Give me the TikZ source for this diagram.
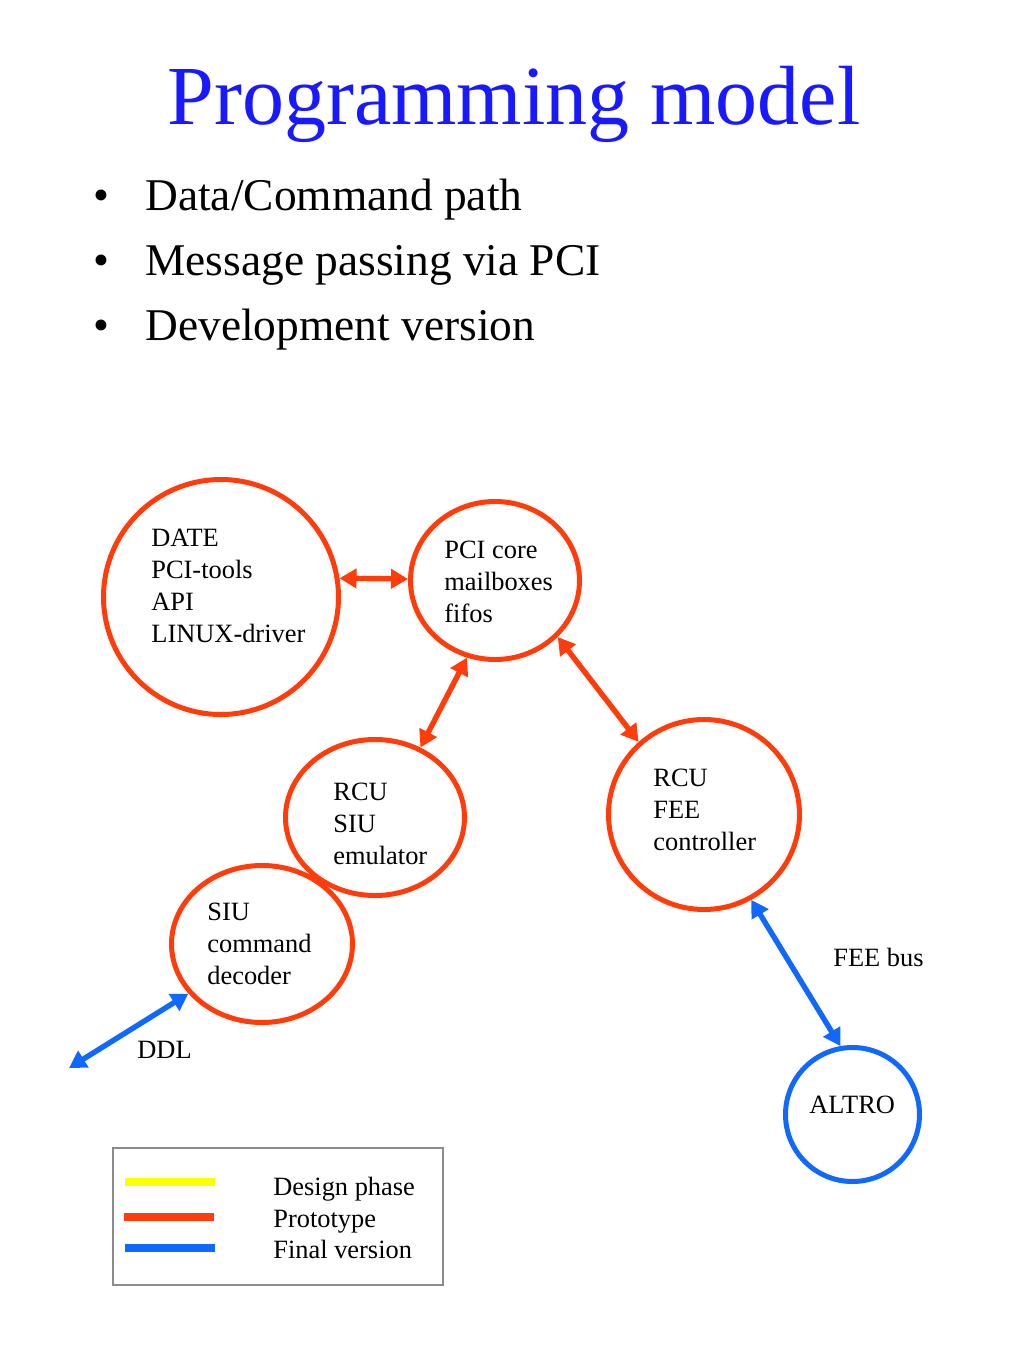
\documentclass[tikz,border=0pt]{standalone}
\usepackage{fontspec}
\setmainfont{Liberation Serif}
\usetikzlibrary{shapes.geometric,arrows.meta}
\definecolor{proto}{RGB}{255,60,10}
\definecolor{final}{RGB}{16,104,255}
\definecolor{titleblue}{RGB}{25,25,255}
\definecolor{design}{RGB}{255,255,0}
\definecolor{boxgray}{RGB}{140,140,140}
\begin{document}
\begin{tikzpicture}[x=0.5pt,y=-0.5pt,
  blob/.style={draw=proto, line width=2.5pt, ellipse, inner sep=0pt},
  fblob/.style={blob, draw=final},
  txt/.style={anchor=base west, inner sep=0pt, font=\fontsize{13.2}{16}\selectfont},
  bul/.style={anchor=base west, inner sep=0pt, font=\fontsize{22.7}{27}\selectfont},
  link/.style={draw=proto, line width=2.7pt, {Triangle[length=8.5pt,width=9.5pt]}-{Triangle[length=8.5pt,width=9.5pt]}},
  flink/.style={link, draw=final},
  legline/.style={line width=4pt}
]
\useasboundingbox (0,0) rectangle (1024,1365);

% title and bullets
\node[anchor=base, inner sep=0pt, font=\fontsize{42}{50}\selectfont, text=titleblue] (title) at (514,124) {Programming model};
\node[bul] (b1) at (93,210) {\textbullet};
\node[bul] (t1) at (145,210) {Data/Command path};
\node[bul] (b2) at (93,275) {\textbullet};
\node[bul] (t2) at (145,275) {Message passing via PCI};
\node[bul] (b3) at (93,340) {\textbullet};
\node[bul] (t3) at (145,340) {Development version};

% circles
\node[blob, minimum width=117.5pt, minimum height=117.5pt] (date) at (221,597) {};
\node[blob, minimum width=84.5pt, minimum height=79pt] (pci) at (495,580.5) {};
\node[blob, minimum width=89.5pt, minimum height=78pt] (emu) at (375,817.5) {};
\node[blob, minimum width=90.5pt, minimum height=78.5pt] (dec) at (262,944) {};
\node[blob, minimum width=95.5pt, minimum height=95pt] (fee) at (704,814.5) {};
\node[fblob, minimum width=67pt, minimum height=67pt] (altro) at (852.5,1114.5) {};

% circle texts
\node[txt] (d1) at (151,546) {DATE};
\node[txt] (d2) at (151,578) {PCI-tools};
\node[txt] (d3) at (151,610) {API};
\node[txt] (d4) at (151,642) {LINUX-driver};
\node[txt] (p1) at (444,558) {PCI core};
\node[txt] (p2) at (444,590) {mailboxes};
\node[txt] (p3) at (444,622) {fifos};
\node[txt] (e1) at (333,800) {RCU};
\node[txt] (e2) at (333,832) {SIU};
\node[txt] (e3) at (333,864) {emulator};
\node[txt] (c1) at (207,920) {SIU};
\node[txt] (c2) at (207,952) {command};
\node[txt] (c3) at (207,984) {decoder};
\node[txt] (f1) at (653,786) {RCU};
\node[txt] (f2) at (653,818) {FEE};
\node[txt] (f3) at (653,850) {controller};
\node[txt] (a1) at (809,1113) {ALTRO};
\node[txt] (feebus) at (833,966) {FEE bus};
\node[txt] (ddl) at (137,1058) {DDL};

% connectors
\draw[link] (date.9) -- (pci.179);
\draw[link] (pci.250) -- (emu.57);
\draw[link] (pci.318) -- (fee.132);
\draw[flink] (fee.299) -- (altro.100);
\coordinate (ddlend) at (69,1068);
\draw[flink] (ddlend) -- (dec.214);

% legend
\node[draw=boxgray, line width=0.6pt, minimum width=165pt, minimum height=68.5pt, inner sep=0pt] (legend) at (278,1216.5) {};
\draw[legline, draw=design] (125,1182) -- (215,1182);
\draw[legline, draw=proto] (124,1217) -- (214,1217);
\draw[legline, draw=final] (125,1248) -- (215,1248);
\node[txt] (l1) at (273,1195) {Design phase};
\node[txt] (l2) at (273,1227) {Prototype};
\node[txt] (l3) at (273,1258) {Final version};
\end{tikzpicture}
\end{document}
